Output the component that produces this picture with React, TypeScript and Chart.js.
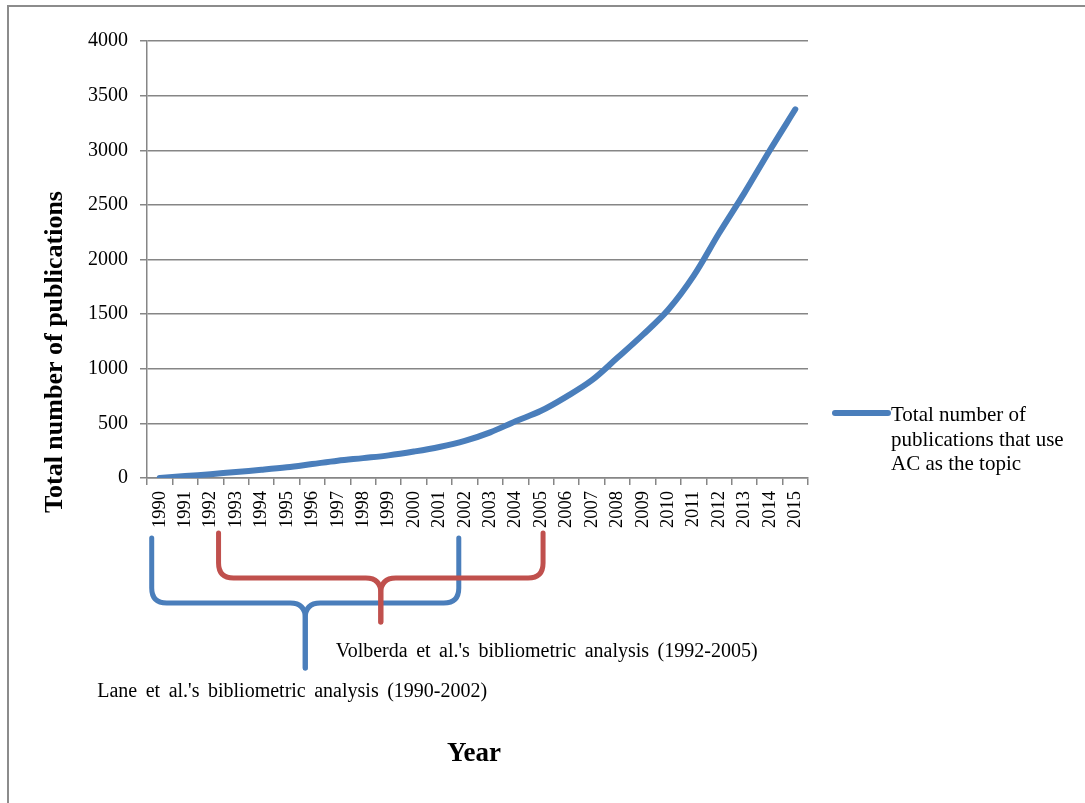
import React, { useEffect, useRef } from 'react';
import { Chart, registerables } from 'chart.js';

Chart.register(...registerables);

const YEARS = ['1990', '1991', '1992', '1993', '1994', '1995', '1996', '1997', '1998', '1999', '2000', '2001', '2002', '2003', '2004', '2005', '2006', '2007', '2008', '2009', '2010', '2011', '2012', '2013', '2014', '2015'];
const PUBLICATIONS = [0, 18, 35, 55, 75, 98, 128, 158, 182, 207, 242, 284, 340, 418, 520, 615, 745, 895, 1100, 1310, 1540, 1850, 2240, 2610, 3000, 3375];
const Y_MIN = 0;
const Y_MAX = 4000;
const Y_STEP = 500;
const SERIES_LABEL_LINES = ['Total number of', 'publications that use', 'AC as the topic'];
const Y_TITLE = 'Total number of publications';
const X_TITLE = 'Year';
const BRACE_LABELS = ["Lane et al.'s bibliometric analysis (1990-2002)", "Volberda et al.'s bibliometric analysis (1992-2005)"];
const BRACE_FROM = ['1990', '1992'];
const BRACE_TO = ['2002', '2005'];

const W = 1085;
const H = 803;
const FONT = "'Liberation Serif', 'Times New Roman', serif";
const BLUE = '#4A7EBB';
const RED = '#C0504D';
const GRID = '#868686';

function drawBraceHalf(ctx: CanvasRenderingContext2D, xEnd: number, xm: number, yTop: number, yMid: number, yTip: number, r: number) {
  const dir = xm > xEnd ? 1 : -1;
  ctx.beginPath();
  ctx.moveTo(xEnd, yTop);
  ctx.lineTo(xEnd, yMid - r);
  ctx.quadraticCurveTo(xEnd, yMid, xEnd + dir * r, yMid);
  ctx.lineTo(xm - dir * r, yMid);
  ctx.quadraticCurveTo(xm, yMid, xm, yMid + r);
  ctx.lineTo(xm, yTip);
  ctx.stroke();
}

const overlayPlugin = {
  id: 'overlay',
  afterDraw(chart: any) {
    const ctx: CanvasRenderingContext2D = chart.ctx;
    const a = chart.chartArea;
    const xs = chart.scales.x;
    ctx.save();

    // frame
    ctx.strokeStyle = '#8c8c8c';
    ctx.lineWidth = 2;
    ctx.beginPath();
    ctx.moveTo(8, H);
    ctx.lineTo(8, 6);
    ctx.lineTo(W, 6);
    ctx.stroke();

    // y title
    ctx.fillStyle = '#000';
    ctx.font = `bold 26px ${FONT}`;
    ctx.textAlign = 'center';
    ctx.textBaseline = 'middle';
    ctx.save();
    ctx.translate(55, 352);
    ctx.rotate(-Math.PI / 2);
    ctx.fillText(Y_TITLE, 0, 0);
    ctx.restore();

    // x title
    ctx.font = `bold 27px ${FONT}`;
    ctx.textBaseline = 'alphabetic';
    ctx.fillText(X_TITLE, 474, 761);

    // legend
    const lx1 = a.right + 27;
    const lx2 = a.right + 80;
    const ly = 413;
    ctx.strokeStyle = BLUE;
    ctx.lineWidth = 6;
    ctx.lineCap = 'round';
    ctx.beginPath();
    ctx.moveTo(lx1, ly);
    ctx.lineTo(lx2, ly);
    ctx.stroke();
    ctx.font = `21px ${FONT}`;
    ctx.textAlign = 'left';
    ctx.textBaseline = 'alphabetic';
    SERIES_LABEL_LINES.forEach((t, i) => ctx.fillText(t, lx2 + 3, 421 + i * 24.5));

    // braces
    const specs = [
      { color: BLUE, dx1: -8, dx2: -6, top: 60, mid: 125, tip: 190, textDx: -208, textY: 219 },
      { color: RED, dx1: 8, dx2: 2, top: 55, mid: 100, tip: 144, textDx: -45, textY: 179 },
    ];
    specs.forEach((s, i) => {
      const x1 = xs.getPixelForValue(YEARS.indexOf(BRACE_FROM[i])) + s.dx1;
      const x2 = xs.getPixelForValue(YEARS.indexOf(BRACE_TO[i])) + s.dx2;
      const xm = (x1 + x2) / 2;
      const b = a.bottom;
      ctx.strokeStyle = s.color;
      ctx.lineWidth = 5;
      ctx.lineCap = 'round';
      ctx.lineJoin = 'round';
      drawBraceHalf(ctx, x1, xm, b + s.top, b + s.mid, b + s.tip, 15);
      drawBraceHalf(ctx, x2, xm, b + s.top, b + s.mid, b + s.tip, 15);
    });
    specs.forEach((s, i) => {
      const x1 = xs.getPixelForValue(YEARS.indexOf(BRACE_FROM[i])) + s.dx1;
      const x2 = xs.getPixelForValue(YEARS.indexOf(BRACE_TO[i])) + s.dx2;
      const xm = (x1 + x2) / 2;
      ctx.fillStyle = '#000';
      ctx.font = `20px ${FONT}`;
      (ctx as any).wordSpacing = '3.5px';
      ctx.textAlign = 'left';
      ctx.fillText(BRACE_LABELS[i], xm + s.textDx, a.bottom + s.textY);
    });
    ctx.restore();
  },
};

export default function App() {
  const ref = useRef<HTMLCanvasElement>(null);
  useEffect(() => {
    document.body.style.margin = '0';
    const canvas = ref.current!;
    const chart = new Chart(canvas, {
      type: 'line',
      data: {
        labels: YEARS,
        datasets: [
          {
            label: SERIES_LABEL_LINES.join(' '),
            data: PUBLICATIONS,
            borderColor: BLUE,
            backgroundColor: BLUE,
            borderWidth: 6,
            borderCapStyle: 'round',
            borderJoinStyle: 'round',
            pointRadius: 0,
            tension: 0.35,
            fill: false,
          },
        ],
      },
      options: {
        responsive: false,
        animation: false,
        devicePixelRatio: 1,
        layout: { padding: { left: 0, top: 41, right: W - 808, bottom: 0 } },
        plugins: { legend: { display: false }, tooltip: { enabled: false } },
        scales: {
          x: {
            offset: true,
            grid: { offset: true, drawOnChartArea: false, drawTicks: true, tickLength: 7, color: GRID, lineWidth: 1.5 },
            border: { display: true, color: GRID, width: 1.5 },
            ticks: {
              color: '#000',
              font: { family: FONT, size: 18.5 },
              minRotation: 90,
              maxRotation: 90,
              autoSkip: false,
              padding: 6,
            },
            afterFit: (s: any) => {
              s.height = H - 478;
            },
          },
          y: {
            min: Y_MIN,
            max: Y_MAX,
            grid: { color: GRID, lineWidth: 1.5, tickLength: 7 },
            border: { display: true, color: GRID, width: 1.5 },
            ticks: {
              stepSize: Y_STEP,
              color: '#000',
              font: { family: FONT, size: 20 },
              padding: 12,
              callback: (v: any) => String(v),
            },
            afterFit: (s: any) => {
              s.width = 147;
            },
          },
        },
      },
      plugins: [overlayPlugin],
    });
    return () => chart.destroy();
  }, []);
  return <canvas ref={ref} width={W} height={H} style={{ display: 'block', width: W, height: H }} />;
}
